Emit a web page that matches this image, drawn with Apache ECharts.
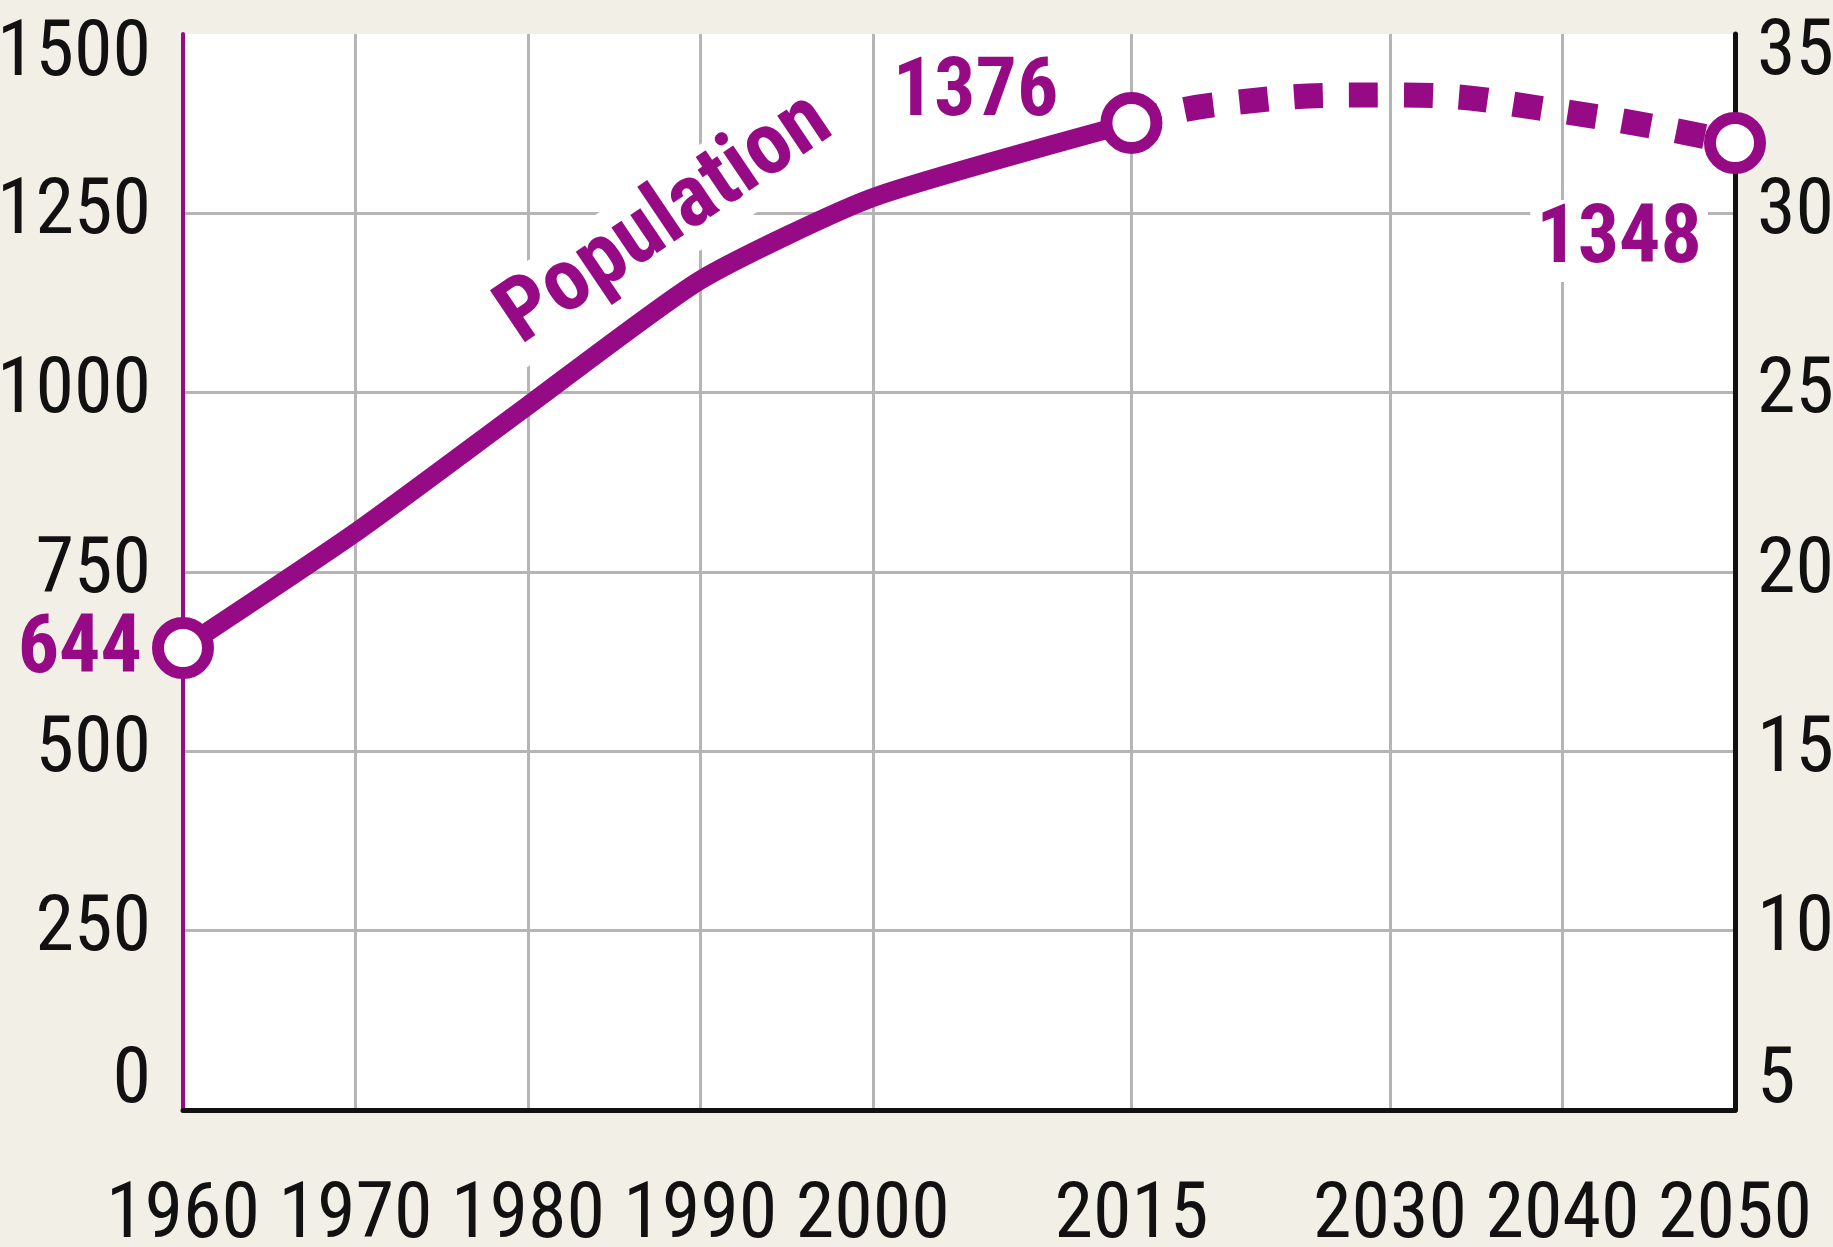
<!DOCTYPE html>
<html>
<head>
<meta charset="utf-8">
<script src="https://cdn.jsdelivr.net/npm/echarts@6/dist/echarts.min.js"></script>
<style>
html,body{margin:0;padding:0;background:#f2f0e6;}
#chart{width:1833px;height:1247px;}
</style>
</head>
<body>
<div id="chart"></div>
<script>
// ---- data ----
const tickYears = ['1960', '1970', '1980', '1990', '2000', '2015', '2030', '2040', '2050'];
const firstYear = 1960;
const lastYear = 2050;
const solidYears = ['1960', '1970', '1980', '1990', '2000', '2015'];
const solidValues = [644, 805, 982, 1157, 1272, 1376];
const projYears = ['2015', '2020', '2030', '2040', '2050'];
const projValues = [1376, 1402, 1415, 1392, 1348];
const markerYears = ['1960', '2015', '2050'];
const markerValues = [644, 1376, 1348];
const seriesName = 'Population';
const seriesNameAt = ['1988', 1240];
const leftAxis = { min: 0, max: 1500, interval: 250 };
const rightAxis = { min: 5, max: 35, interval: 5 };

// ---- build ----
const years = [];
for (let y = firstYear; y <= lastYear; y++) years.push(String(y));
const tickSet = new Set(tickYears);
const showTick = (i, v) => tickSet.has(v);

const PURPLE = '#960a86';
const GRID = '#b5b5b5';
const FONT = "'Liberation Sans Narrow', 'Roboto Condensed', 'DejaVu Sans Condensed', 'Liberation Sans', sans-serif";
const TICK_SIZE = 78;

const pair = (xs, vs) => xs.map((x, i) => [x, vs[i]]);

const tickText = { color: '#111', fontFamily: FONT, fontSize: TICK_SIZE };
function edgeFormatter(axis) {
  return (v) => v === axis.max ? '{top|' + v + '}' : (v === axis.min ? '{bot|' + v + '}' : '{n|' + v + '}');
}
function edgeRich(topPad, botPad) {
  return {
    n: Object.assign({}, tickText),
    top: Object.assign({ padding: [topPad, 0, 0, 0] }, tickText),
    bot: Object.assign({ padding: [0, 0, botPad, 0] }, tickText)
  };
}

const markerLabelStyles = [
  { position: 'left', distance: 10, offset: [0, 3] },
  { position: 'left', distance: 42, offset: [0, -28] },
  { position: 'left', distance: -4, offset: [0, 98], backgroundColor: '#fff', padding: [0, 6] }
];

const markerData = markerYears.map((y, i) => ({
  value: [y, markerValues[i]],
  label: Object.assign({
    show: true,
    formatter: String(markerValues[i]),
    color: PURPLE,
    opacity: 1,
    fontFamily: FONT,
    fontWeight: 'bold',
    fontSize: 82
  }, markerLabelStyles[i])
}));

const chart = echarts.init(document.getElementById('chart'), null, { renderer: 'canvas' });
chart.setOption({
  backgroundColor: '#f2f0e6',
  animation: false,
  grid: {
    left: 183, right: 98, top: 34, bottom: 137,
    show: true, backgroundColor: '#ffffff', borderWidth: 0,
    containLabel: false, outerBoundsMode: 'none'
  },
  xAxis: {
    type: 'category',
    data: years,
    boundaryGap: false,
    axisLine: { show: true, lineStyle: { color: '#111', width: 5 } },
    axisTick: { show: false },
    axisLabel: {
      interval: showTick,
      color: '#111', fontFamily: FONT, fontSize: TICK_SIZE, margin: 68
    },
    splitLine: {
      show: true, interval: showTick,
      lineStyle: { color: GRID, width: 3 }
    }
  },
  yAxis: [
    {
      type: 'value', position: 'left',
      min: leftAxis.min, max: leftAxis.max, interval: leftAxis.interval,
      axisLine: { show: true, onZero: false, lineStyle: { color: PURPLE, width: 4 } },
      axisTick: { show: false },
      axisLabel: {
        margin: 32,
        formatter: edgeFormatter(leftAxis),
        rich: edgeRich(42, 56)
      },
      splitLine: { show: true, showMaxLine: false, lineStyle: { color: GRID, width: 3 } }
    },
    {
      type: 'value', position: 'right',
      min: rightAxis.min, max: rightAxis.max, interval: rightAxis.interval,
      axisLine: { show: true, onZero: false, lineStyle: { color: '#111', width: 5 } },
      axisTick: { show: false },
      axisLabel: {
        margin: 22,
        formatter: edgeFormatter(rightAxis),
        rich: edgeRich(40, 56)
      },
      splitLine: { show: false }
    }
  ],
  series: [
    {
      name: seriesName,
      type: 'line',
      data: pair(solidYears, solidValues),
      smooth: 0.2,
      showSymbol: false,
      lineStyle: { color: PURPLE, width: 19, cap: 'round', join: 'round' },
      z: 3,
      markPoint: {
        symbol: 'circle',
        symbolSize: 0,
        data: [{ coord: seriesNameAt }],
        label: {
          show: true,
          position: 'inside',
          formatter: seriesName,
          rotate: 34,
          color: PURPLE,
          fontFamily: FONT,
          fontWeight: 'bold',
          fontSize: 88,
          backgroundColor: '#ffffff',
          padding: [0, 12]
        },
        z: 4
      }
    },
    {
      name: seriesName + ' projection',
      type: 'line',
      data: pair(projYears, projValues),
      smooth: 0.5,
      showSymbol: false,
      lineStyle: { color: PURPLE, width: 25, type: [29, 26], dashOffset: 0, cap: 'butt' },
      z: 3
    },
    {
      name: 'markers',
      type: 'scatter',
      data: markerData,
      symbol: 'circle',
      symbolSize: 50,
      itemStyle: { color: '#ffffff', borderColor: PURPLE, borderWidth: 12, opacity: 1 },
      emphasis: { disabled: true },
      z: 5
    }
  ]
});
</script>
</body>
</html>
